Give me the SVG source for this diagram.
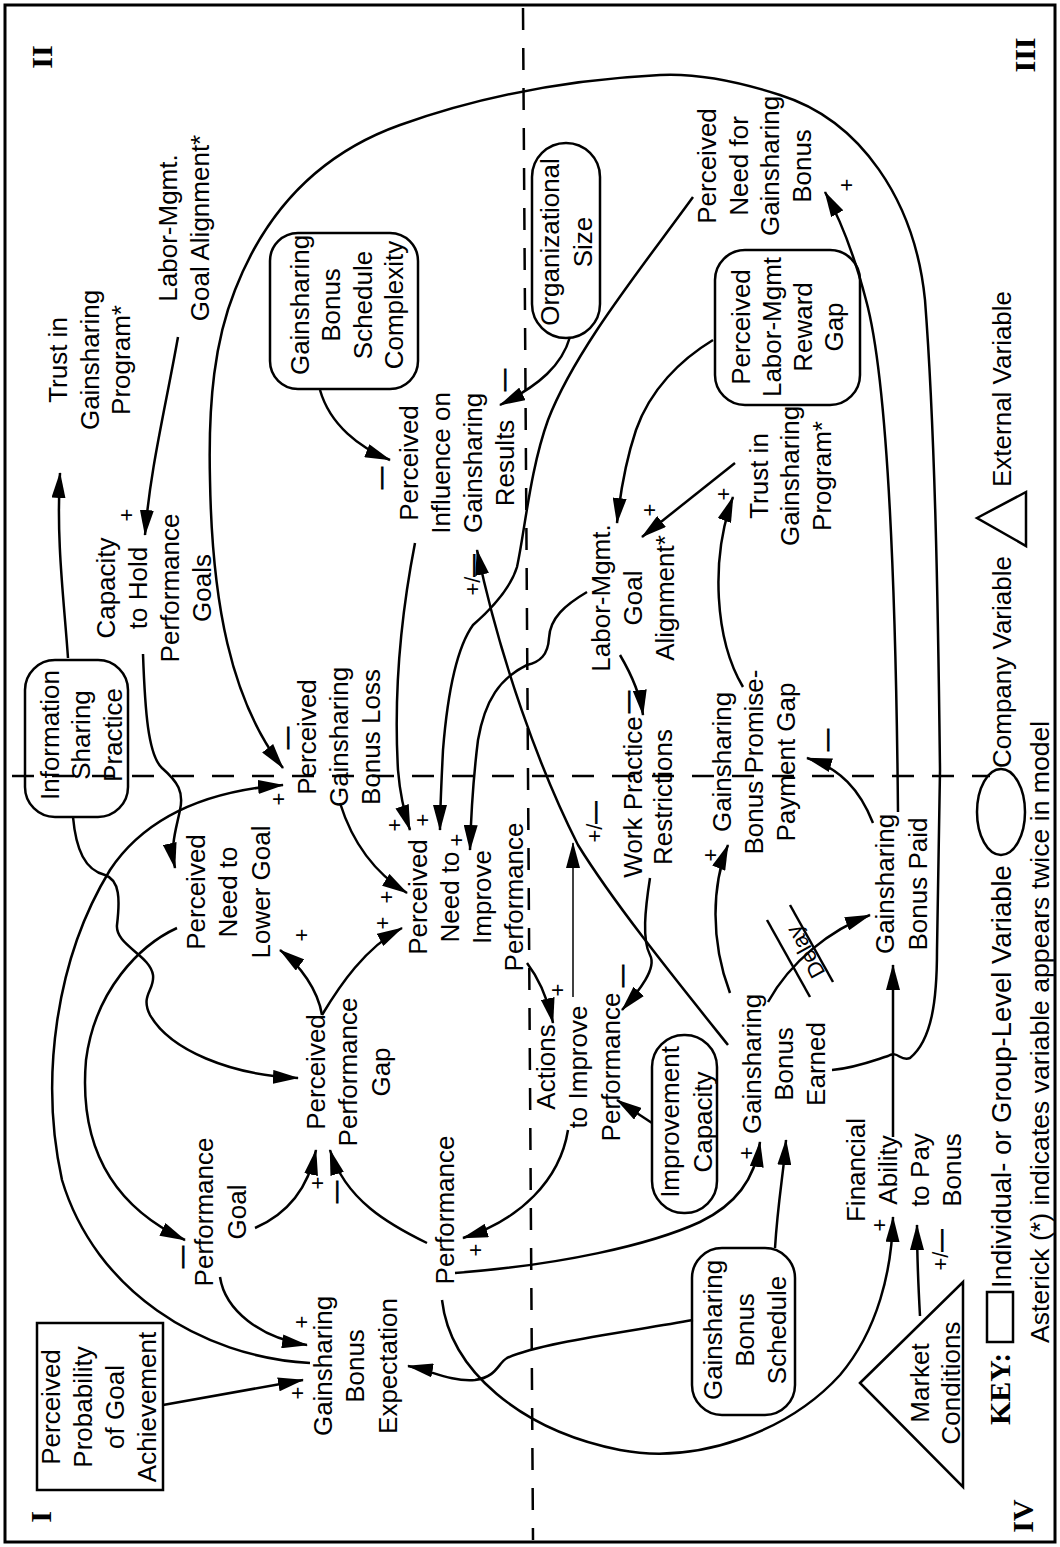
<svg xmlns="http://www.w3.org/2000/svg" width="1060" height="1547" viewBox="0 0 1060 1547">
<style>
text{font-family:"Liberation Sans",Arial,Helvetica,sans-serif;font-size:26px;fill:#000;text-anchor:middle}
.sg{font-size:22px}
.mn{stroke:#000;stroke-width:0.9}
.q{font-family:"Liberation Serif","Times New Roman",serif;font-weight:bold;font-size:30px}
.lg{text-anchor:start}
.shape{fill:none;stroke:#000;stroke-width:2.5}
.c path,.c line{fill:none;stroke:#000;stroke-width:2.5}
.c .thin{stroke-width:1.5}
.dash{stroke:#000;stroke-width:2.5;stroke-dasharray:22 18;fill:none}
</style>
<defs>
<marker id="ah" viewBox="0 0 26 14" refX="25" refY="7" markerWidth="26" markerHeight="14" markerUnits="userSpaceOnUse" orient="auto"><path d="M0,0 L26,7 L0,14 z" fill="#000"/></marker>
</defs>
<rect x="0" y="0" width="1060" height="1547" fill="#fff"/>
<rect x="5" y="5" width="1050" height="1537" fill="none" stroke="#000" stroke-width="3"/>
<line class="dash" x1="523" y1="8" x2="533" y2="1540"/>
<line class="dash" x1="12" y1="776" x2="990" y2="776"/>

<g id="quadrants">
<text class="q" transform="translate(41,57) rotate(-90)" y="11">II</text>
<text class="q" transform="translate(1024,55) rotate(-90)" y="11">III</text>
<text class="q" transform="translate(40,1517) rotate(-90)" y="11">I</text>
<text class="q" transform="translate(1022,1516) rotate(-90)" y="11">IV</text>
</g>

<g id="connectors" class="c">
<path marker-end="url(#ah)" d="M68,658 C64,600 56,540 60,473"/>
<path marker-end="url(#ah)" d="M178,337 C165,410 150,470 145,535"/>
<path marker-end="url(#ah)" d="M143,654 C145,710 148,755 162,768 C178,782 184,792 180,810 C176,830 170,845 175,868"/>
<path marker-end="url(#ah)" d="M832,1070 C855,1068 875,1060 888,1056 C898,1050 900,1062 910,1058 C932,1040 937,1000 937,950 L940,770 C938,600 935,430 925,300 C915,200 860,120 780,95 C740,82 700,73 660,75 C560,80 470,100 400,125 C330,150 270,200 235,290 C215,340 208,400 210,480 C212,600 230,700 283,768"/>
<path marker-end="url(#ah)" d="M310,1363 C200,1357 95,1290 62,1180 C40,1080 55,960 110,870 C150,810 220,790 283,785"/>
<path marker-end="url(#ah)" d="M73,817 C76,850 85,870 105,875 C120,880 120,900 117,925 C115,945 150,955 153,975 C155,990 140,995 150,1015 C170,1050 230,1075 298,1078"/>
<path marker-end="url(#ah)" d="M177,928 C140,945 95,990 86,1060 C80,1130 100,1200 185,1240"/>
<path marker-end="url(#ah)" d="M220,1277 C225,1310 260,1338 307,1345"/>
<path marker-end="url(#ah)" d="M163,1405 L303,1380"/>
<path marker-end="url(#ah)" d="M255,1228 C285,1215 308,1190 316,1150"/>
<path marker-end="url(#ah)" d="M427,1243 C390,1225 345,1200 330,1150"/>
<path marker-end="url(#ah)" d="M455,1273 C560,1265 650,1245 700,1222 C735,1205 755,1180 760,1142"/>
<path marker-end="url(#ah)" d="M775,1248 C778,1200 784,1170 786,1140"/>
<path marker-end="url(#ah)" d="M693,1320 C620,1333 540,1343 507,1358 C498,1363 497,1377 475,1380 C450,1382 430,1370 408,1366"/>
<path marker-end="url(#ah)" d="M568,1130 C560,1180 520,1220 463,1238"/>
<path marker-end="url(#ah)" d="M442,1300 C450,1370 520,1430 620,1450 C700,1465 790,1430 840,1375 C878,1330 892,1270 893,1217"/>
<path marker-end="url(#ah)" d="M920,1316 C918,1280 917,1250 917,1225"/>
<path marker-end="url(#ah)" d="M893,1137 L893,965"/>
<path marker-end="url(#ah)" d="M768,1002 C790,962 830,930 870,915"/>
<path marker-end="url(#ah)" d="M730,993 C710,940 712,885 728,845"/>
<path marker-end="url(#ah)" d="M873,823 C860,790 840,768 807,758"/>
<path marker-end="url(#ah)" d="M898,812 C896,600 888,380 866,300 C855,258 842,222 825,192"/>
<path marker-end="url(#ah)" d="M743,687 C715,640 710,560 733,497"/>
<path marker-end="url(#ah)" d="M713,340 C680,360 650,390 636,430 C626,460 620,495 617,523"/>
<path marker-end="url(#ah)" d="M735,463 L642,537"/>
<path marker-end="url(#ah)" d="M620,655 C630,672 640,692 643,715"/>
<path marker-end="url(#ah)" d="M320,390 C330,425 360,448 390,460"/>
<path marker-end="url(#ah)" d="M570,337 C562,365 540,385 500,405"/>
<path marker-end="url(#ah)" d="M693,197 C640,270 575,350 548,420 C530,470 525,530 517,567 C510,590 490,610 473,625 C455,650 447,700 443,750 C441,790 440,810 440,830"/>
<path marker-end="url(#ah)" d="M587,592 C565,605 550,618 549,638 C548,655 540,662 527,665 C500,678 485,700 478,740 C473,780 471,815 470,850"/>
<path marker-end="url(#ah)" d="M415,543 C400,620 394,700 398,770 C400,795 404,812 410,830"/>
<path marker-end="url(#ah)" d="M340,803 C350,835 370,870 407,893"/>
<path marker-end="url(#ah)" d="M322,1015 C318,990 300,965 280,950"/>
<path marker-end="url(#ah)" d="M322,1015 C340,985 365,948 402,928"/>
<path marker-end="url(#ah)" d="M527,963 C540,980 548,1000 553,1023"/>
<path marker-end="url(#ah)" d="M650,878 C645,910 642,940 650,955 C657,968 640,990 622,1010"/>
<path marker-end="url(#ah)" d="M652,1123 L617,1100"/>
<path marker-end="url(#ah)" d="M728,1045 C680,985 615,905 578,845 C540,770 500,660 477,550"/>
<path class="thin" marker-end="url(#ah)" d="M573,997 L573,843"/>
<line x1="767" y1="920" x2="810" y2="997"/>
<line x1="790" y1="905" x2="833" y2="982"/>
<text class="sg" transform="translate(805,952) rotate(-119)" y="8">Delay</text>
</g>

<g id="signs">
<text class="sg" transform="translate(127,515) rotate(-90)" y="7">+</text>
<text class="sg mn" transform="translate(288,738) rotate(-90)" y="6">—</text>
<text class="sg" transform="translate(279,799) rotate(-90)" y="7">+</text>
<text class="sg" transform="translate(302,935) rotate(-90)" y="7">+</text>
<text class="sg" transform="translate(387,897) rotate(-90)" y="7">+</text>
<text class="sg" transform="translate(383,923) rotate(-90)" y="7">+</text>
<text class="sg" transform="translate(395,825) rotate(-90)" y="7">+</text>
<text class="sg" transform="translate(423,820) rotate(-90)" y="7">+</text>
<text class="sg" transform="translate(457,840) rotate(-90)" y="7">+</text>
<text class="sg" transform="translate(558,990) rotate(-90)" y="7">+</text>
<text class="sg mn" transform="translate(623,976) rotate(-90)" y="6">—</text>
<text class="sg" transform="translate(476,1250) rotate(-90)" y="7">+</text>
<text class="sg mn" transform="translate(337,1192) rotate(-90)" y="6">—</text>
<text class="sg" transform="translate(318,1183) rotate(-90)" y="7">+</text>
<text class="sg mn" transform="translate(183,1257) rotate(-90)" y="6">—</text>
<text class="sg" transform="translate(302,1322) rotate(-90)" y="7">+</text>
<text class="sg" transform="translate(298,1393) rotate(-90)" y="7">+</text>
<text class="sg" transform="translate(747,1153) rotate(-90)" y="7">+</text>
<text class="sg" transform="translate(880,1225) rotate(-90)" y="7">+</text>
<text class="sg" transform="translate(941,1250) rotate(-90)" y="7">+/<tspan class="mn">—</tspan></text>
<text class="sg" transform="translate(711,855) rotate(-90)" y="7">+</text>
<text class="sg mn" transform="translate(828,740) rotate(-90)" y="6">—</text>
<text class="sg" transform="translate(724,494) rotate(-90)" y="7">+</text>
<text class="sg" transform="translate(650,510) rotate(-90)" y="7">+</text>
<text class="sg" transform="translate(847,185) rotate(-90)" y="7">+</text>
<text class="sg mn" transform="translate(629,702) rotate(-90)" y="6">—</text>
<text class="sg mn" transform="translate(505,380) rotate(-90)" y="6">—</text>
<text class="sg mn" transform="translate(382,478) rotate(-90)" y="6">—</text>
<text class="sg" transform="translate(473,575) rotate(-90)" y="7">+/<tspan class="mn">—</tspan></text>
<text class="sg" transform="translate(595,822) rotate(-90)" y="7">+/<tspan class="mn">—</tspan></text>
</g>

<g id="n-trust1"><text transform="translate(89.5,360) rotate(-90)"><tspan x="0" y="-22.5">Trust in</tspan><tspan x="0" y="9">Gainsharing</tspan><tspan x="0" y="40.5">Program*</tspan></text></g>
<g id="n-lmga1"><text transform="translate(184,228) rotate(-90)"><tspan x="0" y="-7">Labor-Mgmt.</tspan><tspan x="0" y="25">Goal Alignment*</tspan></text></g>
<g id="n-complexity"><rect class="shape" x="270" y="233" width="148" height="156" rx="28"/><text transform="translate(347,305) rotate(-90)"><tspan x="0" y="-38.25">Gainsharing</tspan><tspan x="0" y="-6.75">Bonus</tspan><tspan x="0" y="24.75">Schedule</tspan><tspan x="0" y="56.25">Complexity</tspan></text></g>
<g id="n-orgsize"><rect class="shape" x="532" y="143" width="68" height="195" rx="34"/><text transform="translate(566.5,242) rotate(-90)"><tspan x="0" y="-7.5">Organizational</tspan><tspan x="0" y="25.5">Size</tspan></text></g>
<g id="n-needforgb"><text transform="translate(754.5,166) rotate(-90)"><tspan x="0" y="-38.55">Perceived</tspan><tspan x="0" y="-6.85">Need for</tspan><tspan x="0" y="24.85">Gainsharing</tspan><tspan x="0" y="56.55">Bonus</tspan></text></g>
<g id="n-rewardgap"><rect class="shape" x="715" y="250" width="145" height="155" rx="30"/><text transform="translate(787,327) rotate(-90)"><tspan x="0" y="-37.5">Perceived</tspan><tspan x="0" y="-6.5">Labor-Mgmt</tspan><tspan x="0" y="24.5">Reward</tspan><tspan x="0" y="55.5">Gap</tspan></text></g>
<g id="n-influence"><text transform="translate(457,463) rotate(-90)"><tspan x="0" y="-39">Perceived</tspan><tspan x="0" y="-7">Influence on</tspan><tspan x="0" y="25">Gainsharing</tspan><tspan x="0" y="57">Results</tspan></text></g>
<g id="n-capacity"><text transform="translate(154,588) rotate(-90)"><tspan x="0" y="-38.55">Capacity</tspan><tspan x="0" y="-6.85">to Hold</tspan><tspan x="0" y="24.85">Performance</tspan><tspan x="0" y="56.55">Goals</tspan></text></g>
<g id="n-infosharing"><rect class="shape" x="25" y="660" width="103" height="157" rx="30"/><text transform="translate(81,735) rotate(-90)"><tspan x="0" y="-22.5">Information</tspan><tspan x="0" y="9">Sharing</tspan><tspan x="0" y="40.5">Practice</tspan></text></g>
<g id="n-bonusloss"><text transform="translate(339,737) rotate(-90)"><tspan x="0" y="-23">Perceived</tspan><tspan x="0" y="9">Gainsharing</tspan><tspan x="0" y="41">Bonus Loss</tspan></text></g>
<g id="n-lowergoal"><text transform="translate(228,892) rotate(-90)"><tspan x="0" y="-23.5">Perceived</tspan><tspan x="0" y="9">Need to</tspan><tspan x="0" y="41.5">Lower Goal</tspan></text></g>
<g id="n-needimprove"><text transform="translate(466,897) rotate(-90)"><tspan x="0" y="-38.55">Perceived</tspan><tspan x="0" y="-6.85">Need to</tspan><tspan x="0" y="24.85">Improve</tspan><tspan x="0" y="56.55">Performance</tspan></text></g>
<g id="n-workpractice"><text transform="translate(648,797) rotate(-90)"><tspan x="0" y="-6">Work Practice</tspan><tspan x="0" y="24">Restrictions</tspan></text></g>
<g id="n-lmga2"><text transform="translate(633,598) rotate(-90)"><tspan x="0" y="-23">Labor-Mgmt.</tspan><tspan x="0" y="9">Goal</tspan><tspan x="0" y="41">Alignment*</tspan></text></g>
<g id="n-trust2"><text transform="translate(790,476) rotate(-90)"><tspan x="0" y="-22.5">Trust in</tspan><tspan x="0" y="9">Gainsharing</tspan><tspan x="0" y="40.5">Program*</tspan></text></g>
<g id="n-promisegap"><text transform="translate(754,762) rotate(-90)"><tspan x="0" y="-23">Gainsharing</tspan><tspan x="0" y="9">Bonus Promise-</tspan><tspan x="0" y="41">Payment Gap</tspan></text></g>
<g id="n-bonuspaid"><text transform="translate(901.5,884) rotate(-90)"><tspan x="0" y="-7.5">Gainsharing</tspan><tspan x="0" y="25.5">Bonus Paid</tspan></text></g>
<g id="n-earned"><text transform="translate(784,1064) rotate(-90)"><tspan x="0" y="-23">Gainsharing</tspan><tspan x="0" y="9">Bonus</tspan><tspan x="0" y="41">Earned</tspan></text></g>
<g id="n-schedule"><rect class="shape" x="692" y="1248" width="103" height="167" rx="30"/><text transform="translate(745,1330) rotate(-90)"><tspan x="0" y="-23">Gainsharing</tspan><tspan x="0" y="9">Bonus</tspan><tspan x="0" y="41">Schedule</tspan></text></g>
<g id="n-market"><polygon class="shape" points="860,1383 963,1282 963,1487"/><text transform="translate(935.5,1383) rotate(-90)"><tspan x="0" y="-6.5">Market</tspan><tspan x="0" y="24.5">Conditions</tspan></text></g>
<g id="n-financial"><text transform="translate(904,1170) rotate(-90)"><tspan x="0" y="-38.55">Financial</tspan><tspan x="0" y="-6.85">Ability</tspan><tspan x="0" y="24.85">to Pay</tspan><tspan x="0" y="56.55">Bonus</tspan></text></g>
<g id="n-improvcap"><rect class="shape" x="652" y="1035" width="65" height="178" rx="32"/><text transform="translate(686.5,1122) rotate(-90)"><tspan x="0" y="-7.5">Improvement</tspan><tspan x="0" y="25.5">Capacity</tspan></text></g>
<g id="n-actions"><text transform="translate(578,1067) rotate(-90)"><tspan x="0" y="-23.5">Actions</tspan><tspan x="0" y="9">to Improve</tspan><tspan x="0" y="41.5">Performance</tspan></text></g>
<g id="n-ppgap"><text transform="translate(348,1072) rotate(-90)"><tspan x="0" y="-23.5">Perceived</tspan><tspan x="0" y="9">Performance</tspan><tspan x="0" y="41.5">Gap</tspan></text></g>
<g id="n-perfgoal"><text transform="translate(220.5,1212) rotate(-90)"><tspan x="0" y="-7.5">Performance</tspan><tspan x="0" y="25.5">Goal</tspan></text></g>
<g id="n-expectation"><text transform="translate(355,1366) rotate(-90)"><tspan x="0" y="-23.5">Gainsharing</tspan><tspan x="0" y="9">Bonus</tspan><tspan x="0" y="41.5">Expectation</tspan></text></g>
<g id="n-probability"><rect class="shape" x="37" y="1323" width="126" height="167"/><text transform="translate(99,1407) rotate(-90)"><tspan x="0" y="-39">Perceived</tspan><tspan x="0" y="-7">Probability</tspan><tspan x="0" y="25">of Goal</tspan><tspan x="0" y="57">Achievement</tspan></text></g>
<g id="n-performance"><text transform="translate(445,1210) rotate(-90)" y="9">Performance</text></g>

<g id="legend">
<text class="q lg" transform="translate(1010,1425) rotate(-90)">KEY:</text>
<rect class="shape" x="987" y="1292" width="26" height="50"/>
<text class="lg" style="font-size:27.5px" transform="translate(1011,1288) rotate(-90)">Individual- or Group-Level Variable</text>
<text class="lg" style="font-size:26.6px" transform="translate(1049,1343) rotate(-90)">Asterick (*) indicates variable appears twice in model</text>
<ellipse class="shape" cx="1001" cy="812" rx="24" ry="43"/>
<text class="lg" transform="translate(1011,768) rotate(-90)">Company Variable</text>
<polygon class="shape" points="977,518 1026,492 1026,546"/>
<text class="lg" transform="translate(1011,487) rotate(-90)">External Variable</text>
</g>
</svg>
